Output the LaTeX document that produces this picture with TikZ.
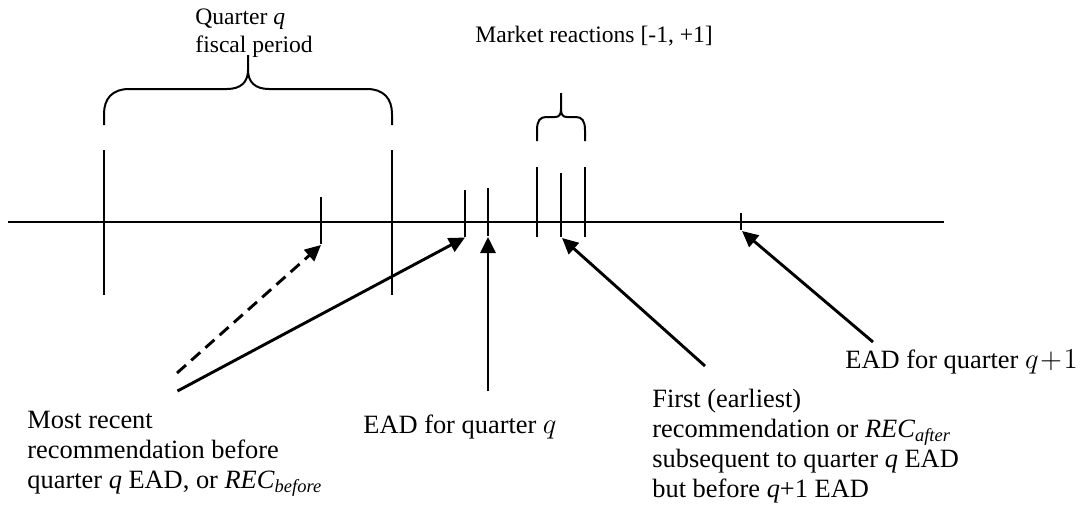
\documentclass[tikz,border=0pt]{standalone}
\usepackage{fontspec}
\setmainfont{Liberation Serif}
\usetikzlibrary{arrows.meta}
\begin{document}
\begin{tikzpicture}[x=0.5pt,y=-0.5pt,
  thinline/.style={line width=1pt},
  ptr/.style={line width=1.45pt,-{Triangle[length=8pt,width=7.5pt]}},
  lbl/.style={inner sep=0pt,anchor=base west,font=\fontsize{13.2}{15}\selectfont},
  toplbl/.style={inner sep=0pt,anchor=base west,font=\fontsize{11.8}{13.5}\selectfont},
]
\useasboundingbox (0,0) rectangle (1081,514);

% timeline
\draw[thinline] (8,221.5) -- (944,221.5);

% ticks
\draw[thinline] (104,150) -- (104,295);
\draw[thinline] (392,150) -- (392,295);
\draw[thinline] (321,196.5) -- (321,244);
\draw[thinline] (465,190) -- (465,237);
\draw[thinline] (488,188) -- (488,236);
\draw[thinline] (537,167) -- (537,237);
\draw[thinline] (561,173) -- (561,237);
\draw[thinline] (585,167) -- (585,237);
\draw[thinline] (741,213) -- (741,230);

% big brace
\draw[thinline] (104,125) -- (104,114) .. controls (104,99) and (112,89) .. (129,89) -- (227,89)
  .. controls (241,89) and (248,82) .. (248,70) -- (248,55);
\draw[thinline] (248,70) .. controls (248,82) and (255,89) .. (269,89) -- (367,89)
  .. controls (384,89) and (392,99) .. (392,114) -- (392,125);

% small brace
\draw[thinline] (537,141) -- (537,130) .. controls (537,121) and (540,117) .. (546,117) -- (555,117)
  .. controls (559,117) and (561,115) .. (561,109) -- (561,93);
\draw[thinline] (561,109) .. controls (561,115) and (563,117) .. (567,117) -- (576,117)
  .. controls (582,117) and (585,121) .. (585,130) -- (585,141);

% labels
\node[toplbl] (quarter) at (195,25) {\begin{tabular}[t]{@{}l@{}}Quarter \textit{q}\\fiscal period\end{tabular}};
\node[toplbl] (market) at (475,42) {Market reactions [-1, +1]};

\node[lbl] (recbefore) at (27,428) {\begin{tabular}[t]{@{}l@{}}Most recent\\recommendation before\\quarter \textit{q} EAD, or \textit{REC}\textsubscript{\textit{before}}\end{tabular}};
\node[lbl] (eadq) at (363,433) {EAD for quarter {\fontsize{15}{15}\selectfont$q$}};
\node[lbl] (recafter) at (652,407) {\begin{tabular}[t]{@{}l@{}}First (earliest)\\recommendation or \textit{REC}\textsubscript{\textit{after}}\\subsequent to quarter \textit{q} EAD\\but before \textit{q}+1 EAD\end{tabular}};
\node[lbl] (eadqnext) at (845,368) {EAD for quarter {\fontsize{15}{15}\selectfont$q\mkern1mu{+}\mkern1mu1$}};

% arrow ends
\coordinate (dashTail) at (177,373);
\coordinate (solTail) at (177.5,391);
\coordinate (eadTail) at (488,391);
\coordinate (afterTail) at (705,366);
\coordinate (nextTail) at (873,342);
\coordinate (tipRecent) at (321,245);
\coordinate (tipBefore) at (465,237.5);
\coordinate (tipEad) at (488,237);
\coordinate (tipAfter) at (562,238);
\coordinate (tipNext) at (742,231);

\draw[ptr,dash pattern=on 6pt off 3.5pt] (dashTail) -- (tipRecent);
\draw[ptr] (solTail) -- (tipBefore);
\draw[ptr] (eadTail) -- (tipEad);
\draw[ptr] (afterTail) -- (tipAfter);
\draw[ptr] (nextTail) -- (tipNext);
\end{tikzpicture}
\end{document}
